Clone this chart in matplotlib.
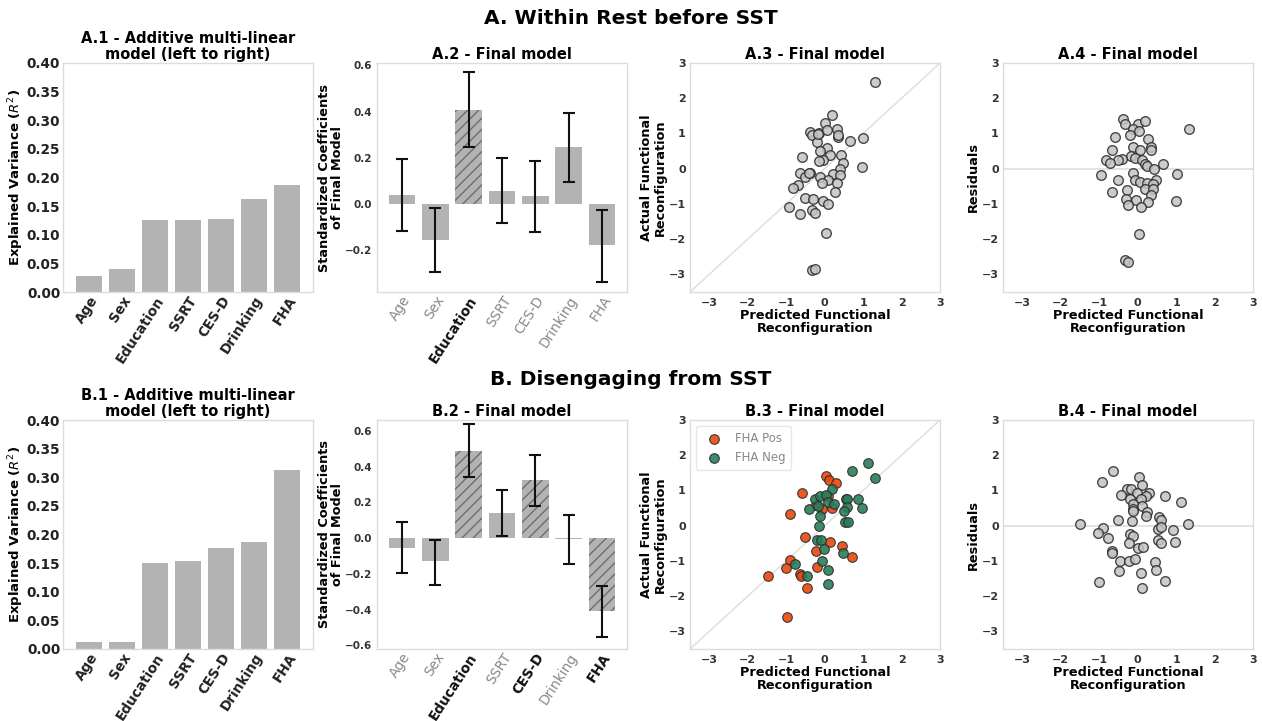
import numpy as np
import matplotlib
matplotlib.use("Agg")
import matplotlib.pyplot as plt

# ---- data ----
predictors = ["Age", "Sex", "Education", "SSRT", "CES-D", "Drinking", "FHA"]

# cumulative explained variance (R^2)
r2_rest = [0.028, 0.041, 0.126, 0.126, 0.128, 0.163, 0.187]
r2_dis = [0.012, 0.012, 0.150, 0.153, 0.176, 0.187, 0.313]

# standardized coefficients with CI bounds
coef_rest = [0.039, -0.154, 0.407, 0.055, 0.033, 0.245, -0.178]
lo_rest = [-0.115, -0.295, 0.247, -0.082, -0.121, 0.095, -0.337]
hi_rest = [0.196, -0.017, 0.570, 0.199, 0.188, 0.396, -0.026]
sig_rest = [False, False, True, False, False, False, False]

coef_dis = [-0.053, -0.130, 0.489, 0.138, 0.323, -0.004, -0.409]
lo_dis = [-0.194, -0.262, 0.343, 0.009, 0.181, -0.147, -0.551]
hi_dis = [0.091, -0.008, 0.638, 0.268, 0.466, 0.128, -0.268]
sig_dis = [False, False, True, False, True, False, True]

# A.3 predicted vs actual
a3_pred = [1.32, 0.19, 0.00, 0.32, -0.39, -0.14, 0.05, -0.32, 0.35, 1.00, 0.65,
           -0.21, 0.05, -0.12, 0.42, 0.14, -0.58, -0.05, -0.15, 0.47, 0.40, 0.97,
           -0.65, -0.39, 0.23, 0.39, -0.52, -0.12, 0.10, -0.08, 0.32, -0.70, -0.82,
           0.27, -0.52, -0.30, -0.05, 0.10, -0.92, -0.32, -0.24, -0.65, 0.04,
           -0.34, -0.25, 0.36, -0.17, -0.40]
a3_act = [2.45, 1.52, 1.29, 1.14, 1.05, 1.02, 1.10, 0.96, 0.91, 0.87, 0.80,
          0.76, 0.58, 0.50, 0.40, 0.38, 0.32, 0.25, 0.22, 0.15, 0.00, 0.06,
          -0.11, -0.11, -0.15, -0.17, -0.24, -0.23, -0.32, -0.42, -0.42, -0.47, -0.55,
          -0.66, -0.82, -0.85, -0.91, -1.01, -1.10, -1.18, -1.25, -1.29, -1.82,
          -2.88, -2.86, 0.95, 0.98, -0.13]

# A.4 predicted vs residuals
a4_pred = [-0.39, -0.33, 0.00, 0.20, -0.12, 0.04, -0.20, 1.33, -0.58, 0.28, 0.36,
           0.36, -0.11, 0.05, -0.66, -0.17, -0.06, -0.40, -0.82, -0.52, -0.71, 0.12,
           0.18, 0.25, 0.65, 0.43, -0.94, -0.12, 1.02, -0.52, -0.06, 0.05, 0.25,
           0.49, 0.40, 0.20, -0.28, 0.40, 0.34, -0.67, -0.31, -0.05, 0.28, 0.99,
           -0.24, 0.09, 0.04, -0.34, -0.24]
a4_res = [1.42, 1.28, 1.28, 1.34, 1.13, 1.06, 0.95, 1.13, 0.89, 0.85, 0.62,
          0.54, 0.61, 0.52, 0.53, 0.37, 0.29, 0.27, 0.24, 0.24, 0.16, 0.26,
          0.12, 0.09, 0.13, -0.01, -0.19, -0.12, -0.14, -0.31, -0.33, -0.38, -0.41,
          -0.33, -0.43, -0.57, -0.60, -0.57, -0.74, -0.65, -0.87, -0.89, -0.95, -0.92,
          -1.02, -1.10, -1.86, -2.59, -2.65]

# B.3 predicted vs actual, split by FHA group
pos_pred = [0.03, 0.11, 0.29, -0.60, 0.10, -0.23, -0.07, 0.20, -0.91, -0.50, 0.14,
            0.45, -0.23, 0.71, -0.91, -0.21, -1.01, -0.65, -0.62, -1.48, -0.47, -0.98]
pos_act = [1.40, 1.30, 1.22, 0.94, 0.83, 0.58, 0.47, 0.49, 0.32, -0.31, -0.45,
           -0.58, -0.71, -0.88, -0.98, -1.18, -1.21, -1.37, -1.44, -1.42, -1.77, -2.58]
neg_pred = [1.12, 1.30, 0.71, 0.19, -0.25, -0.12, 0.03, 0.10, 0.25, -0.17, -0.41,
            -0.12, 0.56, 0.59, 0.88, 0.97, 0.58, 0.51, 0.52, 0.60, -0.15, -0.21,
            -0.10, -0.02, 0.47, -0.76, -0.08, 0.10, -0.45, 0.10]
neg_act = [1.77, 1.34, 1.56, 1.04, 0.75, 0.85, 0.87, 0.66, 0.61, 0.55, 0.47,
           0.28, 0.75, 0.75, 0.75, 0.49, 0.52, 0.42, 0.11, 0.11, 0.00, -0.40,
           -0.40, -0.66, -0.77, -1.08, -1.01, -1.25, -1.42, -1.65]

# B.4 predicted vs residuals
b4_pred = [-0.64, 0.04, -0.92, 0.12, -0.28, -0.17, -0.02, 0.29, -0.42, 0.72, 0.22,
           -0.21, 0.09, -0.11, 1.14, 0.12, -0.12, -0.11, 0.25, 0.23, -0.51, -0.15,
           0.56, 0.60, -1.51, 1.32, -0.91, -1.03, 0.52, 0.60, 0.92, -0.76, -0.20,
           -0.11, 0.54, 0.62, -0.22, 0.98, 0.00, 0.14, -0.66, -0.66, -0.46, -0.22,
           -0.08, 0.45, 0.49, -0.48, 0.10, -1.00, 0.72, 0.11]
b4_res = [1.56, 1.37, 1.23, 1.16, 1.04, 1.04, 0.94, 0.94, 0.87, 0.85, 0.83,
          0.77, 0.77, 0.61, 0.66, 0.55, 0.47, 0.41, 0.40, 0.28, 0.17, 0.14,
          0.24, 0.17, 0.05, 0.05, -0.06, -0.21, -0.09, -0.03, -0.12, -0.35, -0.24,
          -0.30, -0.40, -0.49, -0.50, -0.47, -0.64, -0.60, -0.71, -0.77, -0.99, -0.99,
          -0.94, -1.02, -1.27, -1.30, -1.35, -1.60, -1.58, -1.77]

# ---- style ----
plt.rcParams["font.family"] = "DejaVu Sans"
plt.rcParams["hatch.linewidth"] = 1.0
BAR = "#b3b3b3"
SPINE = "#dcdcdc"
TICK = "#333333"
W, H = 1262, 721

fig = plt.figure(figsize=(W / 100, H / 100), dpi=100)


def box(px_left, px_top, px_w=250, px_h=229):
    return fig.add_axes([px_left / W, 1 - (px_top + px_h) / H, px_w / W, px_h / H])


def clean(ax):
    for s in ax.spines.values():
        s.set_color(SPINE)
        s.set_linewidth(1.0)
    ax.tick_params(length=0, pad=2)


def r2_panel(ax, vals, title):
    x = np.arange(len(predictors))
    ax.bar(x, vals, width=0.8, color=BAR)
    ax.set_xlim(-0.78, 6.78)
    ax.set_ylim(0, 0.40)
    yt = np.arange(0, 0.41, 0.05)
    ax.set_yticks(yt)
    ax.set_yticklabels([f"{v:.2f}" for v in yt],
                       fontsize=9.8, fontweight="bold", color="#222222")
    ax.set_xticks(x)
    ax.set_xticklabels(predictors, rotation=57, ha="right", rotation_mode="anchor",
                       fontsize=9.8, fontweight="bold", color="#222222")
    ax.set_ylabel("Explained Variance ($R^2$)", fontsize=9.5, fontweight="bold", labelpad=0.5)
    ax.set_title(title, fontsize=10.5, fontweight="bold", pad=3, linespacing=1.05)
    clean(ax)
    ax.tick_params(axis="x", pad=1)


def coef_panel(ax, coef, lo, hi, sig, title, ylim, yticks):
    x = np.arange(len(predictors))
    for i in range(len(predictors)):
        ax.bar(x[i], coef[i], width=0.8, color=BAR,
               hatch="///" if sig[i] else None,
               edgecolor="#6e6e6e" if sig[i] else BAR, linewidth=0)
    err = [np.array(coef) - np.array(lo), np.array(hi) - np.array(coef)]
    ax.errorbar(x, coef, yerr=err, fmt="none", ecolor="#111111", elinewidth=1.5,
                capsize=4, capthick=1.5)
    ax.set_xlim(-0.75, 6.75)
    ax.set_ylim(*ylim)
    ax.set_yticks(yticks)
    ax.set_yticklabels([f"{v:.1f}".replace("-", "\u2212") for v in yticks],
                       fontsize=7.5, fontweight="bold", color=TICK)
    ax.set_xticks(x)
    labels = ax.set_xticklabels(predictors, rotation=57, ha="right",
                                rotation_mode="anchor", fontsize=9.8)
    for lab, s in zip(labels, sig):
        lab.set_fontweight("bold" if s else "normal")
        lab.set_color("#111111" if s else "#888888")
    ax.set_ylabel("Standardized Coefficients\nof Final Model", fontsize=9.3,
                  fontweight="bold", labelpad=0.5, linespacing=1.05)
    ax.set_title(title, fontsize=10.5, fontweight="bold", pad=3)
    clean(ax)
    ax.tick_params(axis="x", pad=1)
    ax.tick_params(axis="y", pad=3.5)


def scatter_setup(ax, title, ylabel):
    ax.set_xlim(-3.5, 3)
    ax.set_ylim(-3.5, 3)
    ticks = [-3, -2, -1, 0, 1, 2, 3]
    ax.set_xticks(ticks)
    ax.set_yticks(ticks)
    tl = [str(t).replace("-", "\u2212") for t in ticks]
    ax.set_xticklabels(tl, fontsize=8, fontweight="bold", color=TICK)
    ax.set_yticklabels(tl, fontsize=8, fontweight="bold", color=TICK)
    ax.set_xlabel("Predicted Functional\nReconfiguration", fontsize=9.3,
                  fontweight="bold", labelpad=1, linespacing=1.05)
    ax.set_ylabel(ylabel, fontsize=9.3, fontweight="bold", labelpad=1, linespacing=1.1)
    ax.set_title(title, fontsize=10.5, fontweight="bold", pad=3)
    clean(ax)
    ax.tick_params(axis="x", pad=4)
    ax.tick_params(axis="y", pad=3)


def grey_points(ax, xs, ys):
    ax.scatter(xs, ys, s=48, facecolor="#c4c4c4", edgecolor="#2b2b2b",
               linewidth=1.0, alpha=0.85, zorder=3)


# ---- row A ----
fig.text(0.5, 0.974, "A. Within Rest before SST", ha="center", va="center",
         fontsize=14.5, fontweight="bold")

ax = box(63, 63)
r2_panel(ax, r2_rest, "A.1 - Additive multi-linear\nmodel (left to right)")

ax = box(377, 63)
coef_panel(ax, coef_rest, lo_rest, hi_rest, sig_rest, "A.2 - Final model",
           (-0.38, 0.61), [-0.2, 0.0, 0.2, 0.4, 0.6])

ax = box(690, 63)
ax.plot([-3.5, 3], [-3.5, 3], color="#dddddd", lw=1, zorder=1)
grey_points(ax, a3_pred, a3_act)
scatter_setup(ax, "A.3 - Final model", "Actual Functional\nReconfiguration")

ax = box(1003, 63)
ax.axhline(0, color="#dddddd", lw=1.2, zorder=1)
grey_points(ax, a4_pred, a4_res)
scatter_setup(ax, "A.4 - Final model", "Residuals")

# ---- row B ----
fig.text(0.5, 0.473, "B. Disengaging from SST", ha="center", va="center",
         fontsize=14.5, fontweight="bold")

ax = box(63, 420)
r2_panel(ax, r2_dis, "B.1 - Additive multi-linear\nmodel (left to right)")

ax = box(377, 420)
coef_panel(ax, coef_dis, lo_dis, hi_dis, sig_dis, "B.2 - Final model",
           (-0.62, 0.66), [-0.6, -0.4, -0.2, 0.0, 0.2, 0.4, 0.6])

ax = box(690, 420)
ax.plot([-3.5, 3], [-3.5, 3], color="#dddddd", lw=1, zorder=1)
ax.scatter(pos_pred, pos_act, s=48, facecolor="#e8480e", edgecolor="#2b2b2b",
           linewidth=0.8, alpha=0.9, zorder=3, label="FHA Pos")
ax.scatter(neg_pred, neg_act, s=48, facecolor="#2a7d58", edgecolor="#2b2b2b",
           linewidth=0.8, alpha=0.9, zorder=3, label="FHA Neg")
leg = ax.legend(loc="upper left", fontsize=8.5, frameon=True, handletextpad=0.8,
                borderpad=0.5, labelspacing=0.5)
leg.get_frame().set_edgecolor("#e0e0e0")
for t in leg.get_texts():
    t.set_color("#888888")
scatter_setup(ax, "B.3 - Final model", "Actual Functional\nReconfiguration")

ax = box(1003, 420)
ax.axhline(0, color="#dddddd", lw=1.2, zorder=1)
grey_points(ax, b4_pred, b4_res)
scatter_setup(ax, "B.4 - Final model", "Residuals")

fig.savefig("out.png", dpi=100)
